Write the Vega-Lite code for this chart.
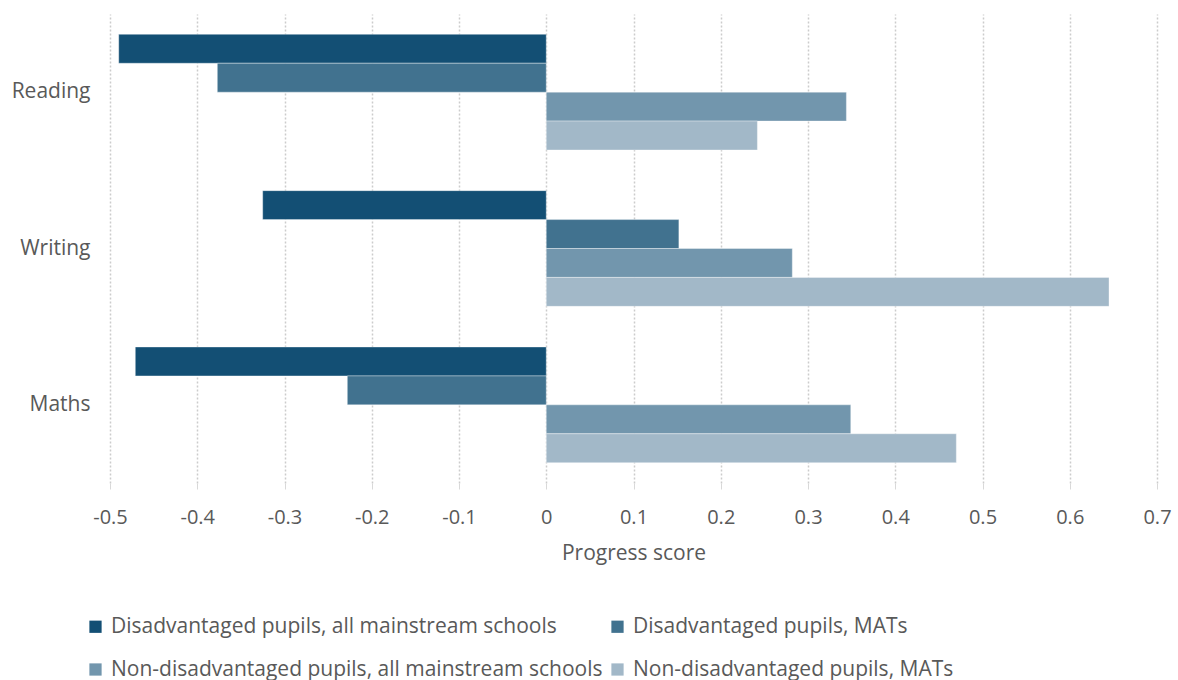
{
  "$schema": "https://vega.github.io/schema/vega-lite/v6.json",
  "width": 1047,
  "height": 469,
  "autosize": {"type": "none"},
  "padding": {"left": 110, "top": 14, "right": 21, "bottom": 197},
  "background": "white",
  "config": {
    "view": {"stroke": null},
    "font": "Open Sans"
  },
  "data": {
    "values": [
      {"subject": "Reading", "group": "Disadvantaged pupils, all mainstream schools", "score": -0.49},
      {"subject": "Reading", "group": "Disadvantaged pupils, MATs", "score": -0.377},
      {"subject": "Reading", "group": "Non-disadvantaged pupils, all mainstream schools", "score": 0.344},
      {"subject": "Reading", "group": "Non-disadvantaged pupils, MATs", "score": 0.242},
      {"subject": "Writing", "group": "Disadvantaged pupils, all mainstream schools", "score": -0.325},
      {"subject": "Writing", "group": "Disadvantaged pupils, MATs", "score": 0.152},
      {"subject": "Writing", "group": "Non-disadvantaged pupils, all mainstream schools", "score": 0.282},
      {"subject": "Writing", "group": "Non-disadvantaged pupils, MATs", "score": 0.645},
      {"subject": "Maths", "group": "Disadvantaged pupils, all mainstream schools", "score": -0.471},
      {"subject": "Maths", "group": "Disadvantaged pupils, MATs", "score": -0.228},
      {"subject": "Maths", "group": "Non-disadvantaged pupils, all mainstream schools", "score": 0.349},
      {"subject": "Maths", "group": "Non-disadvantaged pupils, MATs", "score": 0.47}
    ]
  },
  "mark": {"type": "bar", "stroke": "#ffffff", "strokeWidth": 0.6, "strokeOpacity": 0.6},
  "encoding": {
    "y": {
      "field": "subject",
      "type": "nominal",
      "sort": ["Reading", "Writing", "Maths"],
      "scale": {"paddingInner": 0.26, "paddingOuter": 0.13},
      "axis": {
        "title": null,
        "domain": false,
        "ticks": false,
        "labelPadding": 20,
        "labelFontSize": 21,
        "labelColor": "#595959"
      }
    },
    "yOffset": {
      "field": "group",
      "type": "nominal",
      "sort": [
        "Disadvantaged pupils, all mainstream schools",
        "Disadvantaged pupils, MATs",
        "Non-disadvantaged pupils, all mainstream schools",
        "Non-disadvantaged pupils, MATs"
      ],
      "scale": {"paddingInner": 0, "paddingOuter": 0}
    },
    "x": {
      "field": "score",
      "type": "quantitative",
      "scale": {"domain": [-0.5, 0.7], "nice": false, "zero": false},
      "axis": {
        "title": "Progress score",
        "titleFontSize": 21,
        "titleFontWeight": "normal",
        "titleColor": "#595959",
        "titlePadding": 15,
        "values": [-0.5, -0.4, -0.3, -0.2, -0.1, 0, 0.1, 0.2, 0.3, 0.4, 0.5, 0.6, 0.7],
        "labelExpr": "'' + datum.value",
        "labelFontSize": 20,
        "labelColor": "#595959",
        "labelPadding": 18,
        "labelFlush": false,
        "domain": false,
        "ticks": true,
        "tickColor": "#d9d9d9",
        "tickSize": 6,
        "grid": true,
        "gridColor": "#cccccc",
        "gridDash": [2, 2],
        "gridWidth": 1.5
      }
    },
    "color": {
      "field": "group",
      "type": "nominal",
      "sort": [
        "Disadvantaged pupils, all mainstream schools",
        "Disadvantaged pupils, MATs",
        "Non-disadvantaged pupils, all mainstream schools",
        "Non-disadvantaged pupils, MATs"
      ],
      "scale": {
        "domain": [
          "Disadvantaged pupils, all mainstream schools",
          "Disadvantaged pupils, MATs",
          "Non-disadvantaged pupils, all mainstream schools",
          "Non-disadvantaged pupils, MATs"
        ],
        "range": ["#134f74", "#41728f", "#7296ad", "#a2b8c8"]
      },
      "legend": {
        "title": null,
        "orient": "none",
        "legendX": -25,
        "legendY": 602,
        "direction": "horizontal",
        "columns": 2,
        "columnPadding": 4,
        "rowPadding": 21,
        "symbolType": "square",
        "symbolSize": 150,
        "symbolStrokeWidth": 0,
        "labelFontSize": 21,
        "labelColor": "#595959",
        "labelLimit": 600,
        "labelOffset": 5
      }
    }
  }
}
